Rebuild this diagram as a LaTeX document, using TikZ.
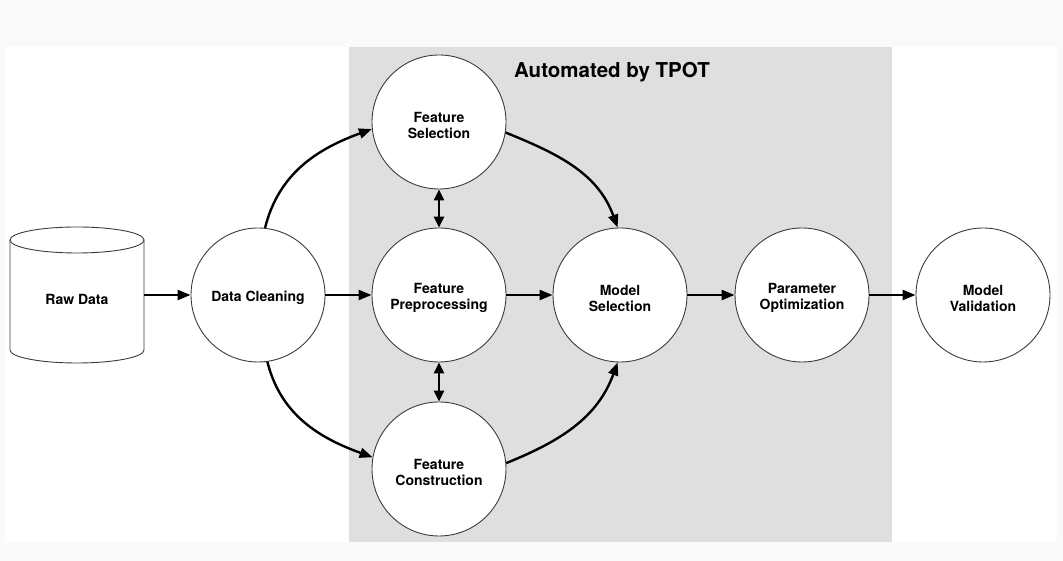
\documentclass[tikz,border=0pt]{standalone}
\usepackage{fontspec}
\setmainfont{TeX Gyre Heros}
\usetikzlibrary{arrows.meta}
\definecolor{outerbg}{RGB}{250,250,250}
\definecolor{tpotgrey}{RGB}{223,223,223}
\definecolor{ringcol}{RGB}{60,60,60}
\tikzset{
  stage/.style={circle, draw=ringcol, line width=0.9pt, fill=white, minimum size=134pt, inner sep=0pt},
  stagetext/.style={align=center, font=\bfseries\fontsize{14}{16}\selectfont, inner sep=0pt},
  flow/.style={line width=2.4pt, -{Triangle[length=13pt,width=10pt]}},
  bidir/.style={line width=2.4pt, {Triangle[length=11pt,width=10pt]}-{Triangle[length=11pt,width=10pt]}},
  cyl/.style={draw=ringcol, line width=0.9pt, fill=white},
}
\begin{document}
\begin{tikzpicture}[x=1pt,y=1pt]
\useasboundingbox (0,0) rectangle (1063,561);
\fill[outerbg] (0,0) rectangle (1063,561);
\fill[white] (5,19) rectangle (1057,514);
\fill[tpotgrey] (349,19) rectangle (892,514);
\node[anchor=base, font=\bfseries\fontsize{20.5}{24}\selectfont] (title) at (612,483) {Automated by TPOT};

% Raw Data cylinder
\node[minimum width=134pt, minimum height=136pt, inner sep=0pt] (raw) at (77,266) {};
\fill[white] (10,321) -- (10,211) arc[start angle=180, end angle=360, x radius=67, y radius=13] -- (144,321) -- cycle;
\draw[cyl] (10,321) -- (10,211) arc[start angle=180, end angle=360, x radius=67, y radius=13] -- (144,321);
\draw[cyl] (77,321) ellipse[x radius=67, y radius=13];
\node[stagetext] (rawlabel) at ([yshift=-4pt]raw.center) {Raw Data};

\node[stage] (dc) at (258,266) {};
\node[stage] (fs) at (439,439) {};
\node[stage] (fp) at (439,266) {};
\node[stage] (fc) at (439,92) {};
\node[stage] (ms) at (620,266) {};
\node[stage] (po) at (802,266) {};
\node[stage] (mv) at (983,266) {};

\node[stagetext] (dct) at ([yshift=-3pt]dc.center) {Data Cleaning};
\node[stagetext] (fst) at ([yshift=-3pt]fs.center) {Feature\\Selection};
\node[stagetext] (fpt) at ([yshift=-3pt]fp.center) {Feature\\Preprocessing};
\node[stagetext] (fct) at ([yshift=-3pt]fc.center) {Feature\\Construction};
\node[stagetext] (mst) at ([yshift=-3pt]ms.center) {Model\\Selection};
\node[stagetext] (pot) at ([yshift=-3pt]po.center) {Parameter\\Optimization};
\node[stagetext] (mvt) at ([yshift=-3pt]mv.center) {Model\\Validation};

\draw[flow] (raw.east) -- (dc.west);
\draw[flow] (dc.east) -- (fp.west);
\draw[flow] (fp.east) -- (ms.west);
\draw[flow] (ms.east) -- (po.west);
\draw[flow] (po.east) -- (mv.west);

\draw[flow] (dc.84) to[out=76, in=200] (fs.186);
\draw[flow] (dc.278) to[out=-76, in=160] (fc.170);
\draw[flow] (fs.351) to[out=-22, in=110] (ms.92);
\draw[flow] (fc.5) to[out=22, in=-110] (ms.268);

\draw[bidir] (fs.south) -- (fp.north);
\draw[bidir] (fp.south) -- (fc.north);
\end{tikzpicture}
\end{document}
